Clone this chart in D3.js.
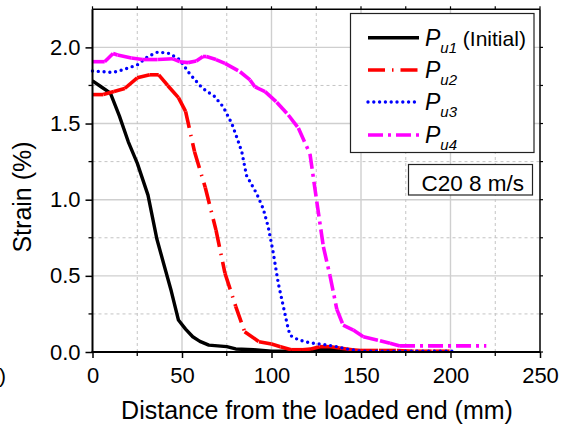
<!DOCTYPE html>
<html>
<head>
<meta charset="utf-8">
<script src="https://cdn.jsdelivr.net/npm/d3@7"></script>
<style>
  body { margin: 0; background: #fff; }
  svg { display: block; font-family: "Liberation Sans", Arial, sans-serif; }
</style>
</head>
<body>
<svg id="chart" width="564" height="428"></svg>
<script>
// distance from loaded end (mm) and strain (%)
var pu1X = [0, 5, 10, 15, 20, 25, 31, 36, 40, 44, 48, 52, 56, 60, 65, 70, 75, 80, 90, 100, 110, 120, 130, 140, 150];
var pu1Y = [1.78, 1.74, 1.70, 1.55, 1.38, 1.24, 1.03, 0.74, 0.57, 0.40, 0.21, 0.15, 0.10, 0.07, 0.045, 0.04, 0.035, 0.02, 0.015, 0.005, 0.005, 0.015, 0.02, 0.015, 0.005];

var pu2X = [0, 6, 12, 18, 25, 32, 37, 42, 48, 52, 57, 63, 69, 74, 80, 85, 93, 100, 105, 111, 117, 122, 127, 133, 138, 145, 150, 160, 170, 180, 190, 200];
var pu2Y = [1.69, 1.69, 1.71, 1.73, 1.80, 1.82, 1.82, 1.75, 1.67, 1.58, 1.315, 1.08, 0.80, 0.517, 0.30, 0.133, 0.068, 0.052, 0.035, 0.015, 0.015, 0.02, 0.035, 0.035, 0.026, 0.015, 0.01, 0.01, 0.01, 0.005, 0.005, 0.005];

var pu3X = [0, 6, 11.5, 16, 20, 25, 31, 36.6, 43, 48.7, 53.4, 57, 60.8, 64, 68, 73, 77.8, 80.6, 83.4, 86, 91.7, 95.4, 98.2, 101, 103.8, 106.6, 108.8, 110.3, 115, 121.5, 129, 136.4, 142, 150, 160, 170, 180, 190, 202];
var pu3Y = [1.845, 1.84, 1.835, 1.85, 1.865, 1.885, 1.94, 1.97, 1.96, 1.92, 1.84, 1.79, 1.74, 1.71, 1.68, 1.61, 1.50, 1.41, 1.315, 1.16, 1.04, 0.94, 0.82, 0.65, 0.45, 0.30, 0.18, 0.11, 0.08, 0.06, 0.05, 0.035, 0.02, 0.005, 0.005, 0.005, 0.005, 0.005, 0.005];

var pu4X = [0, 6.8, 11.5, 14, 21.7, 28, 36.6, 45, 48.7, 53.4, 58, 61.7, 63.6, 69, 74, 82.4, 88, 90.8, 96.4, 102.9, 109.4, 115, 121.5, 125.3, 129, 132.7, 136.5, 140, 145.7, 151.3, 160.6, 166.2, 171.8, 220];
var pu4Y = [1.906, 1.906, 1.96, 1.95, 1.93, 1.92, 1.92, 1.925, 1.906, 1.90, 1.91, 1.94, 1.94, 1.92, 1.895, 1.84, 1.786, 1.74, 1.71, 1.64, 1.556, 1.47, 1.30, 0.987, 0.69, 0.50, 0.28, 0.177, 0.144, 0.10, 0.074, 0.057, 0.04, 0.04];

var xTicks = [0, 50, 100, 150, 200, 250];
var yTicks = [0.0, 0.5, 1.0, 1.5, 2.0];
var xMinor = [25, 75, 125, 175, 225];
var yMinor = [0.25, 0.75, 1.25, 1.75];

var legendSubs = ["u1", "u2", "u3", "u4"];
var legendExtra = [" (Initial)", "", "", ""];

var svg = d3.select("#chart");

var x = d3.scaleLinear().domain([0, 250]).range([92.5, 540]);
var y = d3.scaleLinear().domain([0, 2.25]).range([352, 9.3]);

var series = [
    {xs: pu1X, ys: pu1Y, color: "#000000", width: 3.4, dash: null, perSeg: false},
    {xs: pu2X, ys: pu2Y, color: "#ff0000", width: 3.6, dash: "17,7,1.5,7", perSeg: true},
    {xs: pu3X, ys: pu3Y, color: "#0000ff", width: 3.4, dash: "0,5.8", perSeg: false},
    {xs: pu4X, ys: pu4Y, color: "#ff00ff", width: 3.6, dash: "15,5,3,5", perSeg: true}
];

// grid
var grid = svg.append("g");
grid.selectAll(".vmaj").data(xTicks.slice(1, -1)).enter().append("line")
    .attr("x1", d => x(d)).attr("x2", d => x(d))
    .attr("y1", y(0)).attr("y2", y(2.25))
    .attr("stroke", "#cfcfcf").attr("stroke-width", 1.4);
grid.selectAll(".hmaj").data(yTicks.slice(1)).enter().append("line")
    .attr("x1", x(0)).attr("x2", x(250))
    .attr("y1", d => y(d)).attr("y2", d => y(d))
    .attr("stroke", "#cfcfcf").attr("stroke-width", 1.4);
grid.selectAll(".vmin").data(xMinor).enter().append("line")
    .attr("x1", d => x(d)).attr("x2", d => x(d))
    .attr("y1", y(0)).attr("y2", y(2.25))
    .attr("stroke", "#c4c4c4").attr("stroke-width", 1).attr("stroke-dasharray", "3,3");
grid.selectAll(".hmin").data(yMinor).enter().append("line")
    .attr("x1", x(0)).attr("x2", x(250))
    .attr("y1", d => y(d)).attr("y2", d => y(d))
    .attr("stroke", "#c4c4c4").attr("stroke-width", 1).attr("stroke-dasharray", "3,3");

// curves
var line = d3.line().x(d => x(d[0])).y(d => y(d[1]));
series.forEach(function(s) {
    var pts = s.xs.map((v, i) => [v, s.ys[i]]);
    if (s.perSeg) {
        // dash pattern restarts at every data point
        for (var i = 0; i < pts.length - 1; i++) {
            svg.append("path").attr("d", line([pts[i], pts[i + 1]]))
                .attr("fill", "none").attr("stroke", s.color)
                .attr("stroke-width", s.width).attr("stroke-dasharray", s.dash);
        }
    } else {
        svg.append("path").attr("d", line(pts))
            .attr("fill", "none").attr("stroke", s.color)
            .attr("stroke-width", s.width)
            .attr("stroke-linejoin", "round")
            .attr("stroke-linecap", s.dash ? "round" : "butt")
            .attr("stroke-dasharray", s.dash);
    }
});

// axes
var xAxis = svg.append("g").attr("transform", "translate(0," + y(0) + ")")
    .call(d3.axisBottom(x).tickValues(xTicks).tickFormat(d3.format("d")).tickSize(6).tickPadding(9));
var yAxis = svg.append("g").attr("transform", "translate(" + x(0) + ",0)")
    .call(d3.axisLeft(y).tickValues(yTicks).tickFormat(d3.format(".1f")).tickSize(7).tickPadding(5));
[xAxis, yAxis].forEach(function(a) {
    a.select(".domain").remove();
    a.selectAll("line").attr("stroke", "#000").attr("stroke-width", 1.5);
    a.selectAll("text").attr("font-size", 22).attr("fill", "#000")
        .attr("font-family", "Liberation Sans, Arial, sans-serif");
});
xAxis.selectAll(".minor").data(xMinor).enter().append("line")
    .attr("x1", d => x(d)).attr("x2", d => x(d)).attr("y1", 0).attr("y2", 4)
    .attr("stroke", "#000").attr("stroke-width", 1.3);
yAxis.selectAll(".minor").data(yMinor).enter().append("line")
    .attr("y1", d => y(d)).attr("y2", d => y(d)).attr("x1", 0).attr("x2", -4)
    .attr("stroke", "#000").attr("stroke-width", 1.3);

// mirror ticks on top and right
svg.selectAll(".topTick").data(xTicks.concat(xMinor)).enter().append("line")
    .attr("x1", d => x(d)).attr("x2", d => x(d))
    .attr("y1", y(2.25)).attr("y2", y(2.25) - 3)
    .attr("stroke", "#000").attr("stroke-width", 1.2);
svg.selectAll(".rightTick").data(yTicks.concat(yMinor)).enter().append("line")
    .attr("y1", d => y(d)).attr("y2", d => y(d))
    .attr("x1", x(250)).attr("x2", x(250) + 3)
    .attr("stroke", "#000").attr("stroke-width", 1.2);

// frame
svg.append("line").attr("x1", x(0)).attr("x2", x(250)).attr("y1", y(2.25)).attr("y2", y(2.25))
    .attr("stroke", "#000").attr("stroke-width", 1.5);
svg.append("line").attr("x1", x(250)).attr("x2", x(250)).attr("y1", y(0)).attr("y2", y(2.25))
    .attr("stroke", "#000").attr("stroke-width", 1.5);
svg.append("line").attr("x1", x(0) - 1).attr("x2", x(250)).attr("y1", y(0)).attr("y2", y(0))
    .attr("stroke", "#000").attr("stroke-width", 2);
svg.append("line").attr("x1", x(0)).attr("x2", x(0)).attr("y1", y(0) + 1).attr("y2", y(2.25))
    .attr("stroke", "#000").attr("stroke-width", 2);

// axis titles
svg.append("text").attr("x", 317).attr("y", 419).attr("text-anchor", "middle")
    .attr("font-size", 25).text("Distance from the loaded end (mm)");
svg.append("text").attr("transform", "translate(31,197) rotate(-90)")
    .attr("text-anchor", "middle").attr("font-size", 25).text("Strain (%)");

// clipped leftover label at the left edge
svg.append("text").attr("x", 6).attr("y", 383).attr("text-anchor", "end")
    .attr("font-size", 21).text(")");

// legend
var lg = svg.append("g");
lg.append("rect").attr("x", 350.5).attr("y", 13.5).attr("width", 183.5).attr("height", 139)
    .attr("fill", "#fff").attr("stroke", "#222").attr("stroke-width", 1.2);
var rowY = [37.7, 70, 102, 135];
series.forEach(function(s, i) {
    lg.append("line").attr("x1", 368).attr("x2", 419).attr("y1", rowY[i]).attr("y2", rowY[i])
        .attr("stroke", s.color).attr("stroke-width", s.width)
        .attr("stroke-linecap", s.dash === "0,5.8" ? "round" : "butt")
        .attr("stroke-dasharray", s.dash);
    var t = lg.append("text").attr("x", 425).attr("y", rowY[i] + 8).attr("font-size", 23);
    t.append("tspan").attr("font-style", "italic").text("P");
    t.append("tspan").attr("font-style", "italic").attr("font-size", 15).attr("dy", 7).text(legendSubs[i]);
    if (legendExtra[i]) {
        t.append("tspan").attr("dy", -7).attr("font-size", 21).text(legendExtra[i]);
    }
});

// annotation box
svg.append("rect").attr("x", 408.5).attr("y", 164.5).attr("width", 124).attr("height", 30.5)
    .attr("fill", "#fff").attr("stroke", "#222").attr("stroke-width", 1.2);
svg.append("text").attr("x", 524).attr("y", 190.5).attr("text-anchor", "end")
    .attr("font-size", 22.5).text("C20 8 m/s");
</script>
</body>
</html>
